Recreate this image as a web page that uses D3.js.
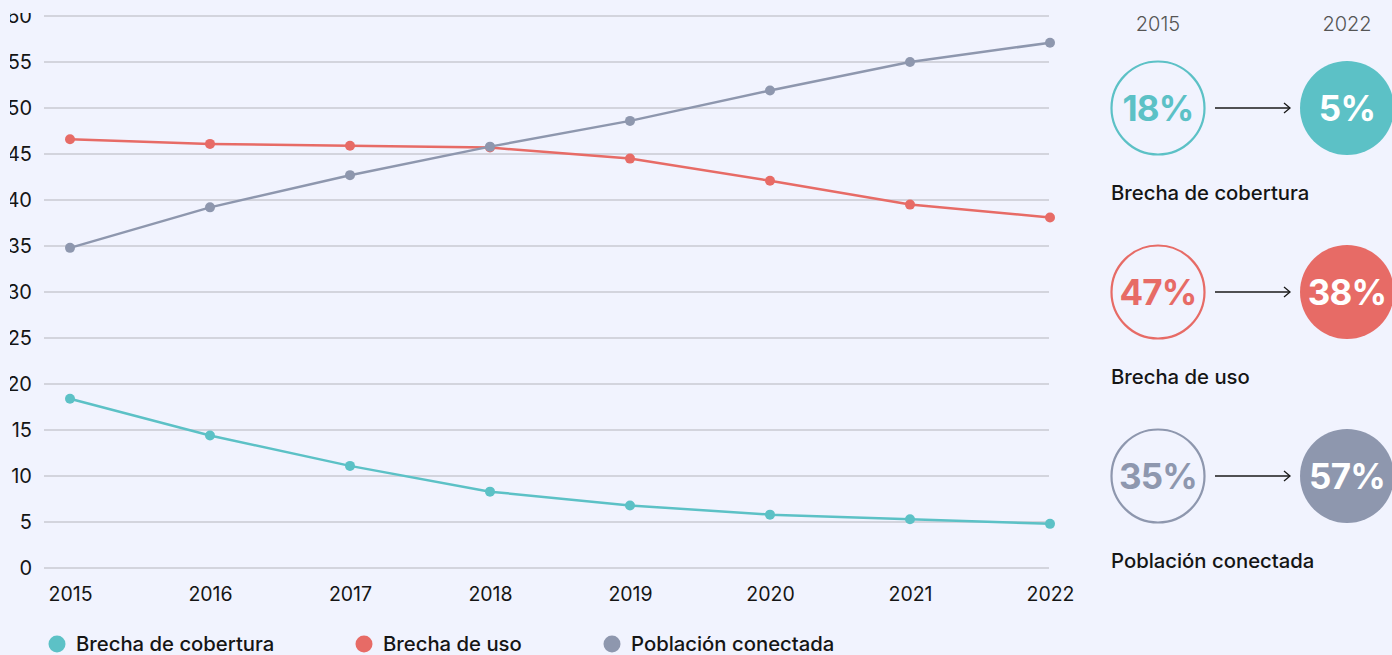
<!DOCTYPE html>
<html>
<head>
<meta charset="utf-8">
<script src="https://cdn.jsdelivr.net/npm/d3@7"></script>
<style>
  html, body { margin: 0; padding: 0; background: #f1f3fe; }
  svg { display: block; font-family: Inter, "Open Sans", sans-serif; }
</style>
</head>
<body>
<svg id="chart" width="1392" height="655"></svg>
<script>
// Years on the x axis
const years = [2015, 2016, 2017, 2018, 2019, 2020, 2021, 2022];
// Series values (%)
const cobertura = [18.4, 14.4, 11.1, 8.3, 6.8, 5.8, 5.3, 4.8];
const uso = [46.6, 46.1, 45.9, 45.7, 44.5, 42.1, 39.5, 38.1];
const conectada = [34.8, 39.2, 42.7, 45.8, 48.6, 51.9, 55.0, 57.1];
// Y tick values
const yTicks = [0, 5, 10, 15, 20, 25, 30, 35, 40, 45, 50, 55, 60];

const seriesNames = ["Brecha de cobertura", "Brecha de uso", "Población conectada"];
const seriesColors = ["#5cc1c6", "#e76b66", "#8e97ae"];
const seriesValues = [cobertura, uso, conectada];

// Summary panel: first and last year values
const summaryYears = ["2015", "2022"];
const summaryStart = ["18%", "47%", "35%"];
const summaryEnd = ["5%", "38%", "57%"];

const svg = d3.select("#chart");

const x = d3.scaleLinear().domain([2015, 2022]).range([70, 1050]);
const y = d3.scaleLinear().domain([0, 60]).range([568, 16]);

// Grid lines
svg.append("g")
  .selectAll("line")
  .data(yTicks)
  .join("line")
  .attr("x1", 44).attr("x2", 1049)
  .attr("y1", d => y(d)).attr("y2", d => y(d))
  .attr("stroke", "#c9cad2").attr("stroke-width", 1.5);

// Y axis labels (clipped to the plot frame)
svg.append("clipPath").attr("id", "yclip")
  .append("rect").attr("x", 10).attr("y", 13).attr("width", 40).attr("height", 600);
const yAxis = d3.axisLeft(y).tickValues(yTicks).tickSize(0).tickPadding(0);
svg.append("g")
  .attr("clip-path", "url(#yclip)")
  .append("g")
  .attr("transform", "translate(32,0)")
  .call(yAxis)
  .call(g => g.select(".domain").remove())
  .call(g => g.selectAll("text")
    .attr("font-size", 20).attr("fill", "#151515")
    .attr("font-family", "Inter, sans-serif"));

// X axis labels
const xAxis = d3.axisBottom(x).tickValues(years).tickFormat(d3.format("d")).tickSize(0).tickPadding(0);
svg.append("g")
  .attr("transform", "translate(0,587)")
  .call(xAxis)
  .call(g => g.select(".domain").remove())
  .call(g => g.selectAll("text")
    .attr("font-size", 19.5).attr("fill", "#151515")
    .attr("font-family", "Inter, sans-serif"));

// Lines and points
const line = d3.line().x((d, i) => x(years[i])).y(d => y(d));
seriesValues.forEach((vals, k) => {
  const g = svg.append("g");
  g.append("path")
    .datum(vals)
    .attr("d", line)
    .attr("fill", "none")
    .attr("stroke", seriesColors[k])
    .attr("stroke-width", 2.5);
  g.selectAll("circle")
    .data(vals)
    .join("circle")
    .attr("cx", (d, i) => x(years[i]))
    .attr("cy", d => y(d))
    .attr("r", 5)
    .attr("fill", seriesColors[k]);
});

// Legend
const legendX = [57, 364, 612];
const legend = svg.append("g");
seriesNames.forEach((name, k) => {
  legend.append("circle")
    .attr("cx", legendX[k]).attr("cy", 644).attr("r", 8.5)
    .attr("fill", seriesColors[k]);
  legend.append("text")
    .attr("x", legendX[k] + 19).attr("y", 651)
    .attr("font-size", 20.3).attr("font-weight", 500).attr("fill", "#151515")
    .text(name);
});

// Summary panel
const cxStart = 1158, cxEnd = 1347, radius = 46.5;
const rowY = [108, 292, 476];
const panel = svg.append("g");
panel.selectAll("text.year")
  .data(summaryYears)
  .join("text")
  .attr("class", "year")
  .attr("x", (d, i) => i === 0 ? cxStart : cxEnd)
  .attr("y", 31)
  .attr("text-anchor", "middle")
  .attr("font-size", 20).attr("font-weight", 300).attr("fill", "#555")
  .text(d => d);

seriesNames.forEach((name, k) => {
  const cy = rowY[k];
  const c = seriesColors[k];
  panel.append("circle")
    .attr("cx", cxStart).attr("cy", cy).attr("r", radius)
    .attr("fill", "none").attr("stroke", c).attr("stroke-width", 2.2);
  panel.append("text")
    .attr("x", cxStart).attr("y", cy + 13)
    .attr("text-anchor", "middle")
    .attr("font-size", 35).attr("font-weight", 700).attr("fill", c)
    .attr("letter-spacing", -0.8)
    .text(summaryStart[k]);
  panel.append("circle")
    .attr("cx", cxEnd).attr("cy", cy).attr("r", radius + 0.5)
    .attr("fill", c);
  panel.append("text")
    .attr("x", cxEnd).attr("y", cy + 13)
    .attr("text-anchor", "middle")
    .attr("font-size", 35).attr("font-weight", 700).attr("fill", "#fff")
    .attr("letter-spacing", -0.8)
    .text(summaryEnd[k]);
  // Arrow
  panel.append("line")
    .attr("x1", 1215).attr("x2", 1290).attr("y1", cy).attr("y2", cy)
    .attr("stroke", "#1a1a1a").attr("stroke-width", 1.3);
  panel.append("path")
    .attr("d", `M1284,${cy - 5}L1290,${cy}L1284,${cy + 5}`)
    .attr("fill", "none").attr("stroke", "#1a1a1a").attr("stroke-width", 1.3);
  panel.append("text")
    .attr("x", 1111).attr("y", cy + 92)
    .attr("font-size", 20.3).attr("font-weight", 500).attr("fill", "#151515")
    .text(name);
});
</script>
</body>
</html>
